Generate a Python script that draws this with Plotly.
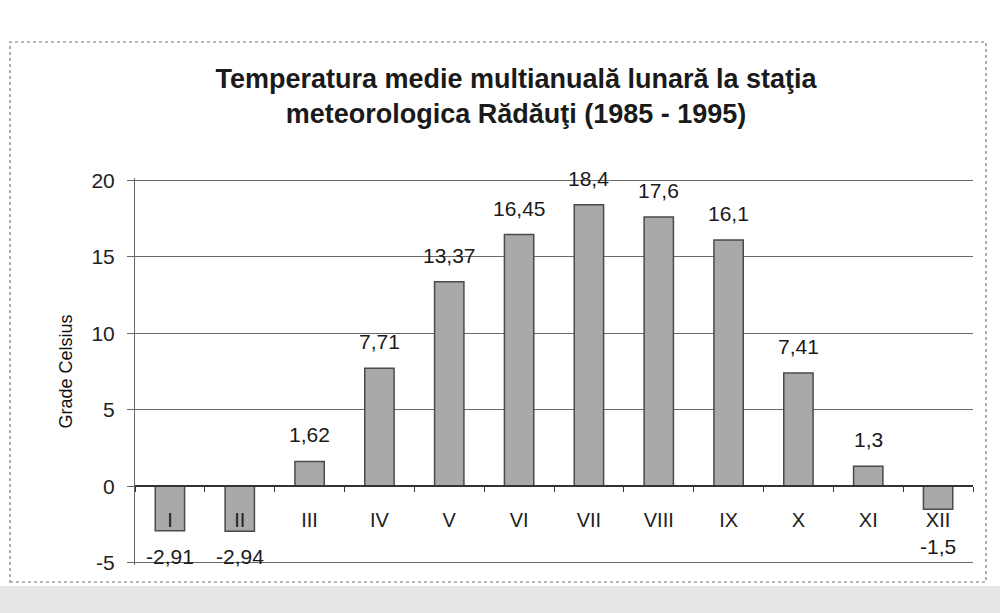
import plotly.graph_objects as go

months = ["I", "II", "III", "IV", "V", "VI", "VII", "VIII", "IX", "X", "XI", "XII"]
temps = [-2.91, -2.94, 1.62, 7.71, 13.37, 16.45, 18.4, 17.6, 16.1, 7.41, 1.3, -1.5]
y_ticks = [-5, 0, 5, 10, 15, 20]
y_tick_text = ["-5", "0", "5", "10", "15", "20"]

labels = [str(v).replace(".", ",") for v in temps]

FONT = "Liberation Sans, Arial, sans-serif"

fig = go.Figure()
fig.add_trace(go.Bar(
    x=months, y=temps,
    marker=dict(color="#a9a9a9", line=dict(color="#4a4a4a", width=1.5)),
    width=0.42,
))

# value labels, offset from bar ends like the original
for m, v, t in zip(months, temps, labels):
    if v >= 0:
        fig.add_annotation(x=m, y=v, text=t, showarrow=False, yanchor="bottom", yshift=13,
                           font=dict(family=FONT, size=21, color="#1a1a1a"))
    else:
        fig.add_annotation(x=m, y=min(v, -2.25), text=t, showarrow=False, yanchor="top", yshift=-12,
                           font=dict(family=FONT, size=21, color="#1a1a1a"))

W, H = 1000, 613
L, R, T, B = 135, 27, 178, 48
pw, ph = W - L - R, H - T - B

def px_x(p):
    return (p - L) / pw

def px_y(p):
    return (H - B - p) / ph

fig.update_layout(
    width=W, height=H,
    margin=dict(l=L, r=R, t=T, b=B),
    paper_bgcolor="white", plot_bgcolor="white",
    showlegend=False,
    title=dict(
        text="Temperatura medie multianuală lunară la staţia<br>meteorologica Rădăuţi (1985 - 1995)",
        x=px_x(516), xanchor="center", xref="paper",
        y=1 - 88 / H, yanchor="middle",
        font=dict(family=FONT, size=27, color="#1a1a1a", weight="bold"),
    ),
    xaxis=dict(
        anchor="free", position=5.15 / 25.3, showline=True, linecolor="#333", linewidth=1.5,
        ticks="outside", ticklen=5, tickcolor="#333", tickson="boundaries",
        ticklabelstandoff=16, showgrid=False,
        tickfont=dict(family=FONT, size=20, color="#222"),
        range=[-0.5, 11.5],
    ),
    yaxis=dict(
        range=[-5.15, 20.15], tickvals=y_ticks, ticktext=y_tick_text,
        showgrid=True, gridcolor="#6a6a6a", gridwidth=1,
        showline=True, linecolor="#666", linewidth=1, zeroline=False,
        ticks="outside", ticklen=7, tickcolor="#666", ticklabelstandoff=8,
        tickfont=dict(family=FONT, size=21, color="#222"),
        title=dict(text="Grade Celsius", standoff=14, font=dict(family=FONT, size=18, color="#111")),
    ),
    shapes=[
        dict(type="rect", xref="paper", yref="paper",
             x0=px_x(10), x1=px_x(986), y0=px_y(582), y1=px_y(42),
             line=dict(color="#777", width=1.2, dash="dot"), layer="below"),
        dict(type="rect", xref="paper", yref="paper",
             x0=px_x(0), x1=px_x(1000), y0=px_y(613), y1=px_y(586),
             fillcolor="#e6e6e6", line=dict(width=0), layer="below"),
    ],
)

fig.write_html("out.html", config={"displayModeBar": False},
               post_script="document.body.style.margin='0';")
